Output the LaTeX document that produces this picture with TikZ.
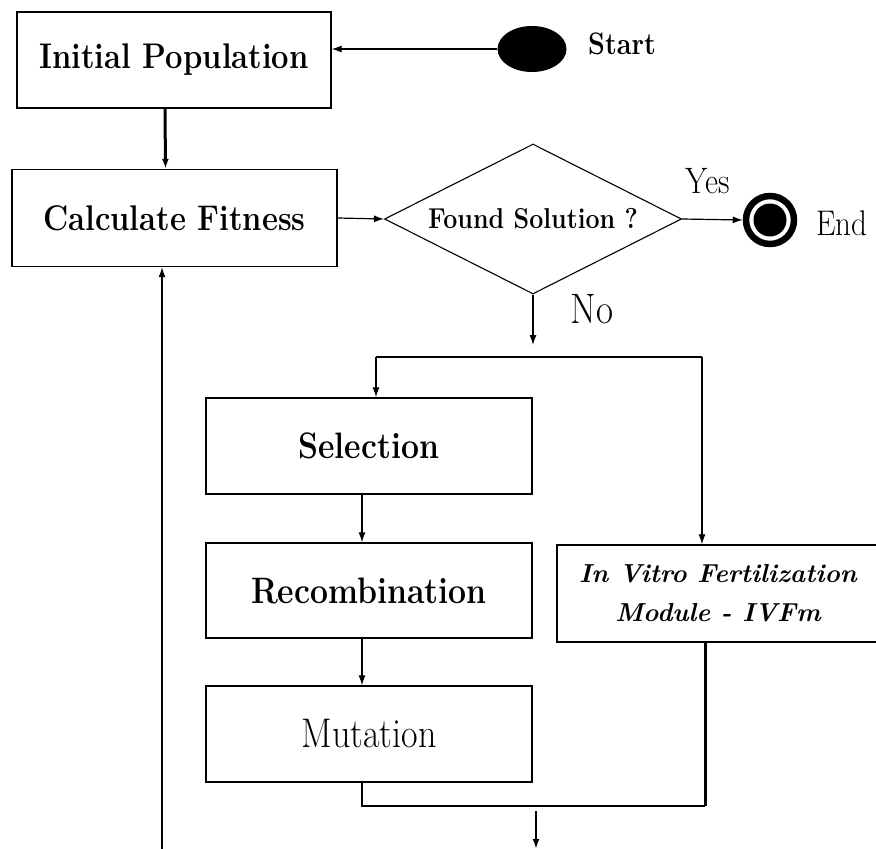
\documentclass[tikz,border=0pt]{standalone}
\usetikzlibrary{arrows.meta,shapes.geometric}
\newcommand{\tallT}[1]{\scalebox{1}[1.15]{#1}}
\begin{document}
\begin{tikzpicture}[x=1pt,y=-1pt,
  box/.style={draw,line width=1.4pt,inner sep=0pt,minimum width=326pt,minimum height=96pt},
  arr/.style={-{Latex[length=10pt,width=7pt]},line width=1.2pt},
  lbl/.style={inner sep=0pt},
]
\useasboundingbox (0,0) rectangle (876,849);

% boxes
\node[box,minimum width=314pt,font=\fontsize{31}{36}\selectfont\bfseries] (init) at (174,60) {\tallT{Initial Population}};
\node[box,minimum width=325pt,minimum height=97pt,font=\fontsize{31}{36}\selectfont\bfseries] (calc) at (174.5,218) {\tallT{Calculate Fitness}};
\node[draw,shape=diamond,line width=1.1pt,inner sep=0pt,aspect=2,minimum width=297pt,minimum height=150pt,font=\fontsize{25}{30}\selectfont\bfseries] (dia) at (533,219) {\tallT{Found Solution ?}};
\node[shape=ellipse,fill=black,inner sep=0pt,minimum width=69pt,minimum height=46pt] (start) at (532,49) {};
\node[lbl,anchor=west,font=\fontsize{27}{32}\selectfont\bfseries] (starttxt) at (588,44) {\tallT{Start}};
\node[shape=circle,draw,line width=6.5pt,inner sep=0pt,minimum size=48pt] (end) at (770,220) {};
\fill (end.center) circle (16.5);
\node[lbl,anchor=west,font=\fontsize{31}{36}\selectfont] (endtxt) at (816,223) {\tallT{End}};
\node[lbl,font=\fontsize{32}{36}\selectfont] (yes) at (708,181) {\tallT{Yes}};
\node[lbl,font=\fontsize{37}{40}\selectfont] (no) at (592,309) {\tallT{No}};

\node[box,font=\fontsize{32}{36}\selectfont\bfseries] (sel) at (369,446) {\tallT{Selection}};
\node[box,minimum height=95pt,font=\fontsize{32}{36}\selectfont\bfseries] (rec) at (369,590.5) {\tallT{Recombination}};
\node[box,font=\fontsize{36}{40}\selectfont] (mut) at (369,734) {\tallT{Mutation}};
\node[box,minimum width=322pt,minimum height=97pt,align=center,font=\fontsize{26}{39}\selectfont\bfseries\itshape] (ivf) at (718,593.5) {In Vitro Fertilization\\ Module - IVFm};

% coordinates
\coordinate (split) at (533,345);
\coordinate (bl) at (376,357);
\coordinate (br) at (702,357);
\coordinate (join) at (705,806);
\coordinate (out) at (536,811);
\coordinate (outend) at (536,849);
\coordinate (loop) at (162,849);

% connectors
\draw[arr] (start.west) -- (start.west -| init.east);
\draw[arr,line width=3pt] ([xshift=-9pt]init.south) -- ([xshift=-9pt]calc.north);
\draw[arr] (calc.east) -- (dia.west);
\draw[arr] (dia.east) -- (end.west);
\draw[arr] (dia.south) -- (split);
\draw[line width=1.2pt] (bl) -- (br);
\draw[arr] (bl) -- (bl |- sel.north);
\draw[arr] (br) -- (br |- ivf.north);
\draw[arr] ([xshift=-7pt]sel.south) -- ([xshift=-7pt]rec.north);
\draw[arr] ([xshift=-7pt]rec.south) -- ([xshift=-7pt]mut.north);
\draw[line width=1.2pt] ([xshift=-7pt]mut.south) |- (join);
\draw[line width=3pt] (ivf.south -| join) -- (join);
\draw[arr,line width=2.5pt] (out) -- (outend);
\draw[arr] (loop) -- (loop |- calc.south);
\end{tikzpicture}
\end{document}
